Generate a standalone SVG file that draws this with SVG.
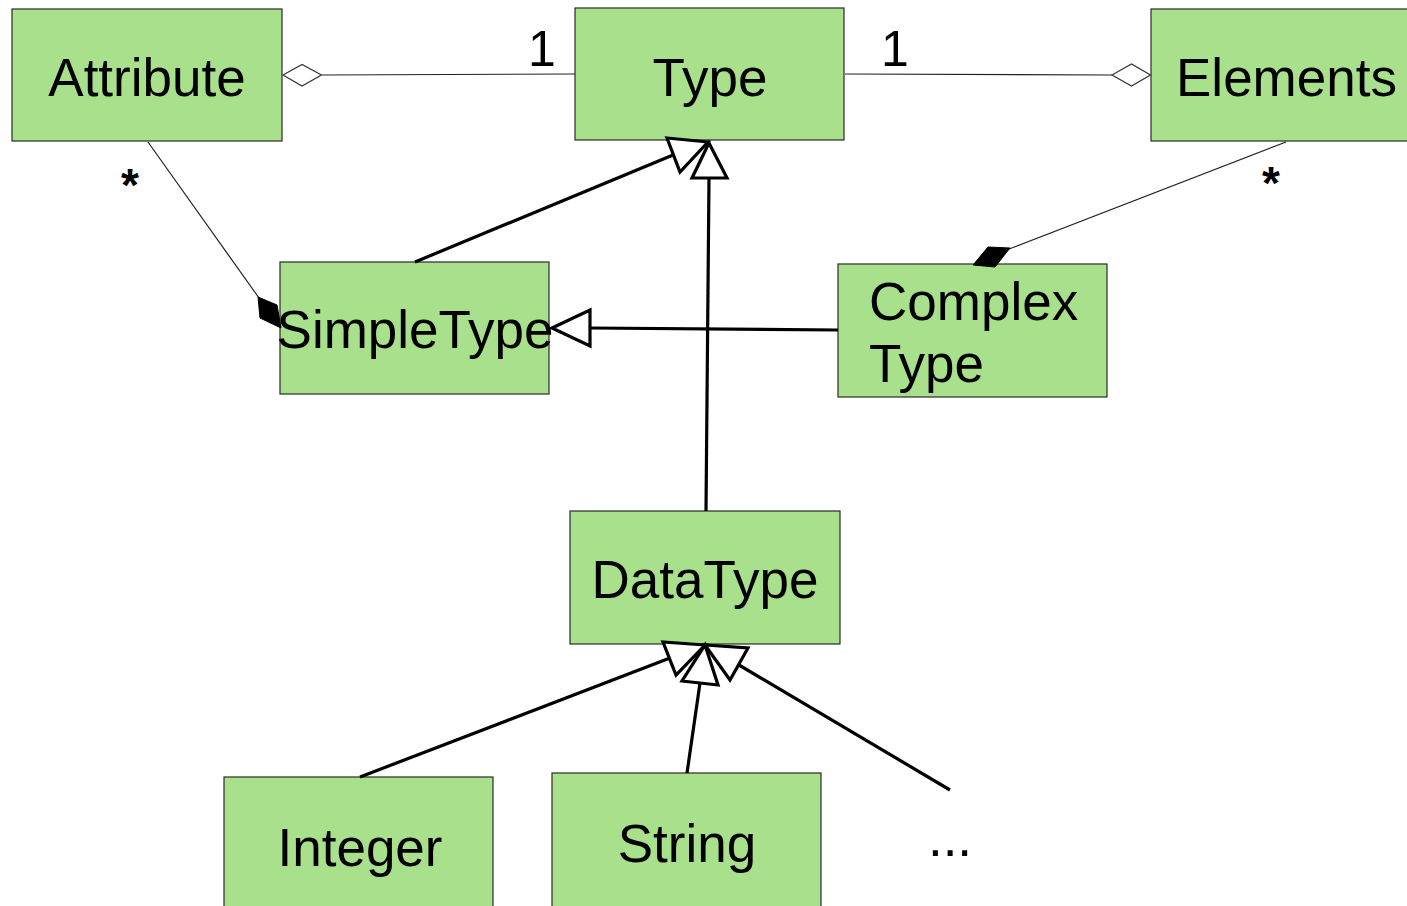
<svg xmlns="http://www.w3.org/2000/svg" width="1407" height="906" viewBox="0 0 1407 906">
<style>
.box{fill:#a8e08b;stroke:#2a2a2a;stroke-width:1.2}
.lbl{font-family:"Liberation Sans",Arial,sans-serif;font-size:53px;fill:#000}
.mult{font-family:"Liberation Sans",Arial,sans-serif;font-size:50px;fill:#000}
.star{font-family:"Liberation Sans",Arial,sans-serif;font-size:46px;font-weight:bold;fill:#000}
.assoc{stroke:#222;stroke-width:1.2;fill:none}
.gen{stroke:#000;stroke-width:3.2;fill:none}
.tri{fill:#fff;stroke:#000;stroke-width:3.2;stroke-linejoin:miter}
.hdia{fill:#fff;stroke:#333;stroke-width:1.2}
.fdia{fill:#000;stroke:#000;stroke-width:1}
</style>
<rect width="1407" height="906" fill="#fff"/>
<g id="nodes">
<g id="attribute"><rect class="box" x="12" y="9" width="270" height="132"/><text class="lbl" x="147" y="96" text-anchor="middle">Attribute</text></g>
<g id="type"><rect class="box" x="575" y="8" width="269" height="132"/><text class="lbl" x="710" y="96" text-anchor="middle">Type</text></g>
<g id="elements"><rect class="box" x="1151" y="9" width="270" height="132"/><text class="lbl" x="1176" y="96">Elements</text></g>
<g id="simpletype"><rect class="box" x="280" y="262" width="269" height="132"/><text class="lbl" x="415" y="348" text-anchor="middle">SimpleType</text></g>
<g id="complextype"><rect class="box" x="838" y="264" width="269" height="133"/><text class="lbl" x="869" y="320">Complex</text><text class="lbl" x="869" y="382">Type</text></g>
<g id="datatype"><rect class="box" x="570" y="511" width="270" height="133"/><text class="lbl" x="705" y="598" text-anchor="middle">DataType</text></g>
<g id="integer"><rect class="box" x="224" y="777" width="269" height="140"/><text class="lbl" x="360" y="866" text-anchor="middle">Integer</text></g>
<g id="string"><rect class="box" x="552" y="773" width="269" height="144"/><text class="lbl" x="687" y="862" text-anchor="middle">String</text></g>
<g id="more"><text class="lbl" x="950" y="856" text-anchor="middle">...</text></g>
</g>
<g id="connectors">
<line class="assoc" x1="322" y1="75" x2="575" y2="74"/>
<polygon class="hdia" points="283,75 302,64.5 321.5,75 302,86"/>
<text class="mult" x="542" y="66" text-anchor="middle">1</text>
<line class="assoc" x1="845" y1="74" x2="1112" y2="75"/>
<polygon class="hdia" points="1112,75 1131.5,64 1150.5,75 1131.5,86"/>
<text class="mult" x="895" y="66" text-anchor="middle">1</text>
<line class="assoc" x1="148" y1="142" x2="259" y2="298"/>
<polygon class="fdia" points="258,297 277,305 281,328 260,318"/>
<text class="star" x="130" y="201" text-anchor="middle">*</text>
<line class="assoc" x1="1286" y1="142" x2="1009" y2="249"/>
<polygon class="fdia" points="1010,248 988,247 973,265 995,267"/>
<text class="star" x="1271" y="199" text-anchor="middle">*</text>
<line class="gen" x1="415" y1="262" x2="673" y2="155"/>
<polygon class="tri" points="708,142 667,138 680,172"/>
<line class="gen" x1="706" y1="511" x2="709" y2="178"/>
<polygon class="tri" points="709,143 692,178 727,178"/>
<line class="gen" x1="838" y1="330" x2="590" y2="328"/>
<polygon class="tri" points="552,328 590,310 590,346"/>
<line class="gen" x1="360" y1="777" x2="670" y2="658"/>
<polygon class="tri" points="705,645 663,642 676,675"/>
<line class="gen" x1="687" y1="773" x2="700" y2="683"/>
<polygon class="tri" points="705,645 682,681 718,685"/>
<line class="gen" x1="950" y1="790" x2="739" y2="665"/>
<polygon class="tri" points="705,645 748,648 730,680"/>
</g>
</svg>
